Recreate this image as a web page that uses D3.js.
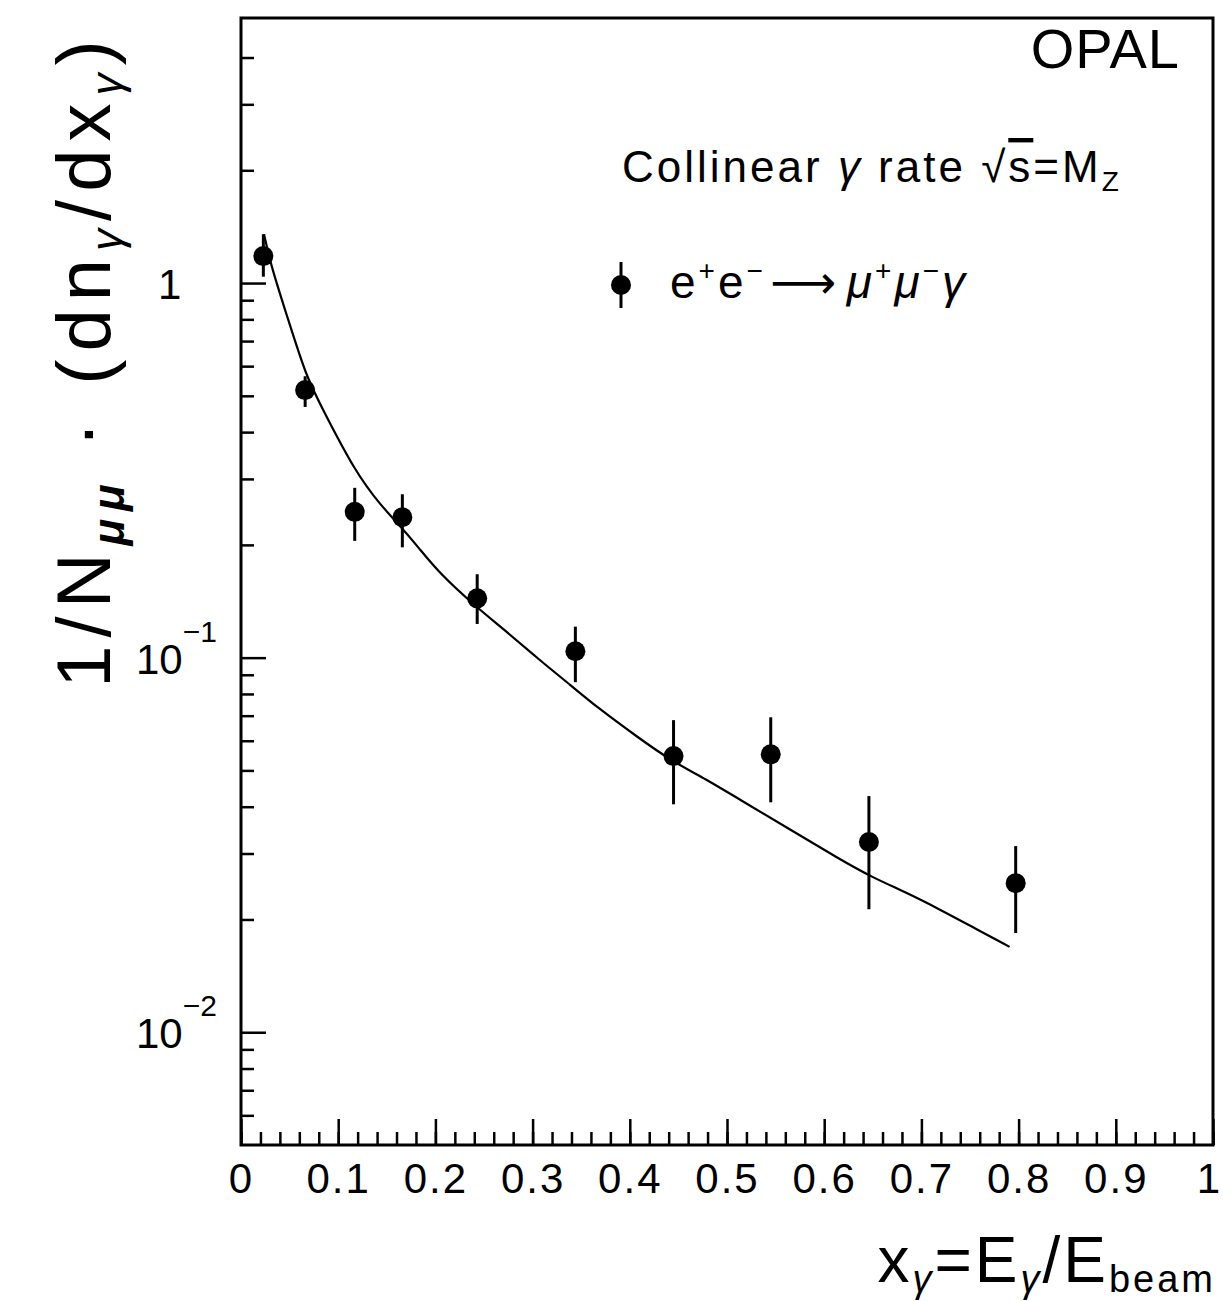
<!DOCTYPE html>
<html>
<head>
<meta charset="utf-8">
<script src="https://cdn.jsdelivr.net/npm/d3@7"></script>
<style>
  body { margin: 0; background: #fff; }
  svg text { font-family: "Liberation Sans", "DejaVu Sans", sans-serif; fill: #000; }
</style>
</head>
<body>
<svg id="chart" width="1223" height="1301"></svg>
<script>
// measured points (x_gamma, rate, error bar low / high)
let xData   = [0.023, 0.066, 0.117, 0.166, 0.243, 0.344, 0.445, 0.545, 0.646, 0.797];
let yData   = [1.18, 0.518, 0.245, 0.237, 0.144, 0.104, 0.0546, 0.0552, 0.0322, 0.0250];
let yErrLo  = [1.04, 0.467, 0.205, 0.197, 0.123, 0.086, 0.0406, 0.0411, 0.0213, 0.0184];
let yErrHi  = [1.35, 0.564, 0.284, 0.273, 0.167, 0.121, 0.0681, 0.0693, 0.0427, 0.0314];

// theory curve
let curveX = [0.0237, 0.0309, 0.0485, 0.067, 0.0825, 0.1175, 0.1443, 0.1649, 0.1825, 0.2031,
              0.2412, 0.2722, 0.3062, 0.3402, 0.366, 0.4093, 0.4433, 0.4784, 0.5124, 0.5608,
              0.6155, 0.6495, 0.6845, 0.7186, 0.7526, 0.7907];
let curveY = [1.35, 1.11, 0.80, 0.564, 0.469, 0.313, 0.254, 0.223, 0.197, 0.169,
              0.137, 0.118, 0.099, 0.084, 0.0738, 0.0610, 0.0529, 0.0474, 0.0419, 0.0353,
              0.0290, 0.0259, 0.0236, 0.0213, 0.0191, 0.0169];

let xMajor = d3.range(0, 1.0001, 0.1);
let xMinor = d3.range(0, 1.0001, 0.02);
let yMajor = [0.01, 0.1, 1];
let yMinor = [0.006, 0.007, 0.008, 0.009, 0.02, 0.03, 0.04, 0.05, 0.06, 0.07, 0.08, 0.09,
              0.2, 0.3, 0.4, 0.5, 0.6, 0.7, 0.8, 0.9, 2, 3, 4];
let yTickLabels = [{v: 1, base: '1', exp: ''}, {v: 0.1, base: '10', exp: '\u22121'}, {v: 0.01, base: '10', exp: '\u22122'}];

let plotLeft = 241, plotRight = 1213, plotTop = 18, plotBottom = 1145;

let svg = d3.select('#chart');

let xScale = d3.scaleLinear().domain([0, 1]).range([plotLeft, plotRight]);
let yScale = d3.scaleLog().domain([0.005, 5.1]).range([plotBottom, plotTop]);

// frame
svg.append('rect')
    .attr('x', plotLeft).attr('y', plotTop)
    .attr('width', plotRight - plotLeft).attr('height', plotBottom - plotTop)
    .attr('fill', 'none').attr('stroke', '#000').attr('stroke-width', 3);

// x axis ticks
svg.append('g')
    .attr('transform', `translate(0,${plotBottom})`)
    .call(d3.axisBottom(xScale).tickValues(xMinor).tickSize(-13).tickFormat(''))
    .call(g => g.select('.domain').remove())
    .selectAll('line').attr('stroke-width', 2.5);
svg.append('g')
    .attr('transform', `translate(0,${plotBottom})`)
    .call(d3.axisBottom(xScale).tickValues(xMajor).tickSize(-26).tickPadding(18)
        .tickFormat(d => (d === 0 ? '0' : Math.abs(d - 1) < 1e-9 ? '1' : d3.format('.1f')(d))))
    .call(g => g.select('.domain').remove())
    .call(g => g.selectAll('line').attr('stroke-width', 2.5))
    .call(g => g.selectAll('text').attr('font-size', 42).attr('fill', '#000')
        .attr('letter-spacing', 2)
        .attr('dx', d => (Math.abs(d - 1) < 1e-9 ? -4 : 0))
        .style('font-family', '"Liberation Sans", sans-serif'));

// y axis ticks
svg.append('g')
    .attr('transform', `translate(${plotLeft},0)`)
    .call(d3.axisLeft(yScale).tickValues(yMinor).tickSize(-13).tickFormat(''))
    .call(g => g.select('.domain').remove())
    .selectAll('line').attr('stroke-width', 2.5);
svg.append('g')
    .attr('transform', `translate(${plotLeft},0)`)
    .call(d3.axisLeft(yScale).tickValues(yMajor).tickSize(-25).tickFormat(''))
    .call(g => g.select('.domain').remove())
    .selectAll('line').attr('stroke-width', 2.5);

// y tick labels (powers of ten)
let yLab = svg.append('g').selectAll('text')
    .data(yTickLabels).enter().append('text')
    .attr('font-size', 42)
    .attr('x', d => d.exp ? 136 : 158)
    .attr('y', d => yScale(d.v) + 16);
yLab.append('tspan').text(d => d.base);
yLab.filter(d => d.exp).append('tspan')
    .attr('dx', 0).attr('dy', -32).attr('font-size', 30)
    .text(d => d.exp);

// theory curve
let curvePts = curveX.map((x, i) => ({x: x, y: curveY[i]}));
let line = d3.line()
    .x(d => xScale(d.x))
    .y(d => yScale(d.y))
    .curve(d3.curveBasis);
svg.append('path')
    .datum(curvePts)
    .attr('d', line)
    .attr('fill', 'none').attr('stroke', '#000').attr('stroke-width', 2.2);

// data points with error bars
let points = xData.map((x, i) => ({x: x, y: yData[i], lo: yErrLo[i], hi: yErrHi[i]}));
svg.append('g').selectAll('line')
    .data(points).enter().append('line')
    .attr('x1', d => xScale(d.x)).attr('x2', d => xScale(d.x))
    .attr('y1', d => yScale(d.hi)).attr('y2', d => yScale(d.lo))
    .attr('stroke', '#000').attr('stroke-width', 3);
svg.append('g').selectAll('circle')
    .data(points).enter().append('circle')
    .attr('cx', d => xScale(d.x)).attr('cy', d => yScale(d.y))
    .attr('r', 10).attr('fill', '#000');

// legend marker
svg.append('line')
    .attr('x1', 621).attr('x2', 621).attr('y1', 262).attr('y2', 308)
    .attr('stroke', '#000').attr('stroke-width', 3);
svg.append('circle').attr('cx', 621).attr('cy', 285).attr('r', 10).attr('fill', '#000');

// legend text
let leg = svg.append('text').attr('x', 670).attr('y', 298).attr('font-size', 46)
    .attr('letter-spacing', 3);
leg.append('tspan').text('e');
leg.append('tspan').attr('dy', -18).attr('font-size', 28).text('+');
leg.append('tspan').attr('dy', 18).text('e');
leg.append('tspan').attr('dy', -18).attr('font-size', 28).text('\u2212');
leg.append('tspan').attr('dy', 18).attr('dx', 4).text('\u27F6');
leg.append('tspan').attr('font-style', 'italic').attr('dx', 8).text('\u03BC');
leg.append('tspan').attr('dy', -18).attr('font-size', 28).text('+');
leg.append('tspan').attr('dy', 18).attr('font-style', 'italic').text('\u03BC');
leg.append('tspan').attr('dy', -18).attr('font-size', 28).text('\u2212');
leg.append('tspan').attr('dy', 18).attr('font-style', 'italic').text('\u03B3');

// OPAL label
svg.append('text').attr('x', 1180).attr('y', 68).attr('text-anchor', 'end')
    .attr('font-size', 56).attr('letter-spacing', 1).text('OPAL');

// title
let title = svg.append('text').attr('x', 622).attr('y', 182).attr('font-size', 44)
    .attr('letter-spacing', 3);
title.append('tspan').text('Collinear ');
title.append('tspan').attr('font-style', 'italic').text('\u03B3');
title.append('tspan').text(' rate \u221A');
title.append('tspan').style('text-decoration', 'overline').text('s');
title.append('tspan').text('=M');
title.append('tspan').attr('dy', 9).attr('font-size', 28).text('Z');

// y label
let yl = svg.append('text')
    .attr('transform', 'translate(110,360) rotate(-90)')
    .attr('text-anchor', 'middle').attr('font-size', 76).attr('letter-spacing', 8);
yl.append('tspan').text('1/N');
yl.append('tspan').attr('dy', 14).attr('font-size', 44).attr('font-style', 'italic').attr('font-weight', 'bold').text('\u03BC\u03BC');
yl.append('tspan').attr('dy', -14).text(' \u00B7 (dn');
yl.append('tspan').attr('dy', 12).attr('font-size', 44).attr('font-style', 'italic').text('\u03B3');
yl.append('tspan').attr('dy', -12).text('/dx');
yl.append('tspan').attr('dy', 12).attr('font-size', 44).attr('font-style', 'italic').text('\u03B3');
yl.append('tspan').attr('dy', -12).text(')');

// x label
let xl = svg.append('text').attr('x', 1216).attr('y', 1282)
    .attr('text-anchor', 'end').attr('font-size', 64).attr('letter-spacing', 3);
xl.append('tspan').text('x');
xl.append('tspan').attr('dy', 10).attr('font-size', 38).attr('font-style', 'italic').text('\u03B3');
xl.append('tspan').attr('dy', -10).text('=E');
xl.append('tspan').attr('dy', 10).attr('font-size', 38).attr('font-style', 'italic').text('\u03B3');
xl.append('tspan').attr('dy', -10).text('/E');
xl.append('tspan').attr('dy', 10).attr('font-size', 38).text('beam');
</script>
</body>
</html>
